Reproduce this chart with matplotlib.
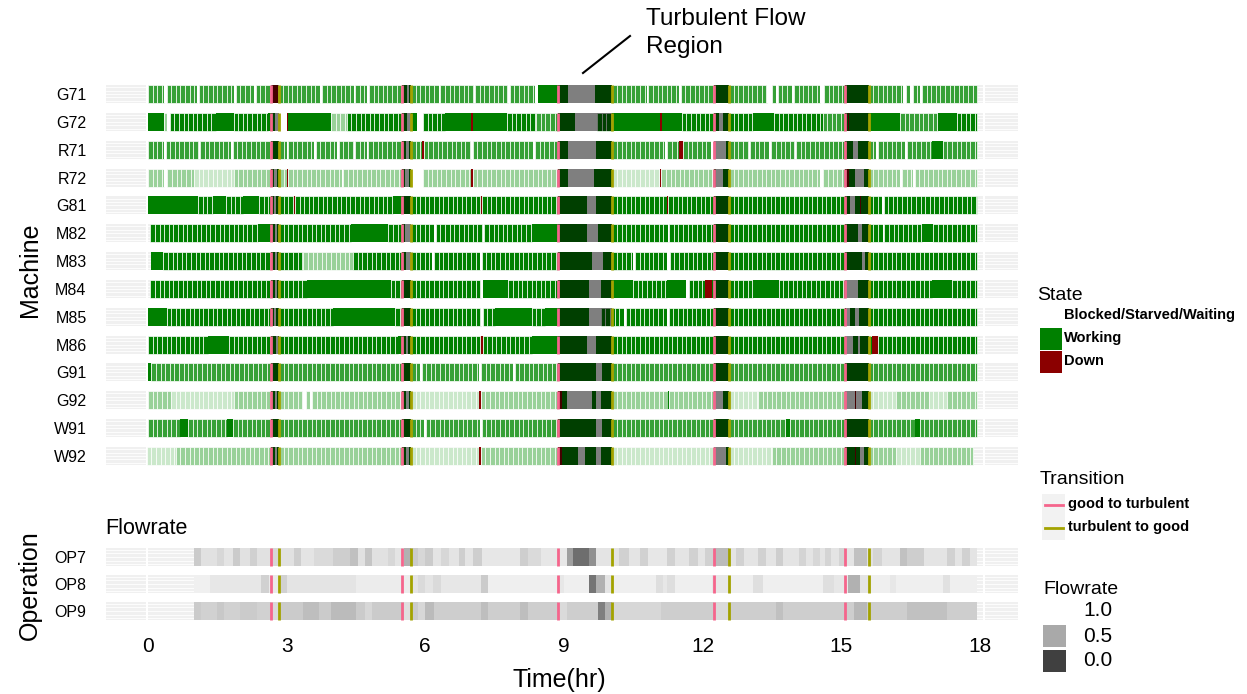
import numpy as np
import matplotlib.pyplot as plt
from matplotlib.colors import LinearSegmentedColormap
from matplotlib.patches import Rectangle
from matplotlib.lines import Line2D

plt.rcParams['font.family'] = ['Liberation Sans', 'DejaVu Sans']

# machine rows, top to bottom
machines = ['G71', 'G72', 'R71', 'R72', 'G81', 'M82', 'M83', 'M84', 'M85', 'M86',
            'G91', 'G92', 'W91', 'W92']

# state runs: code + start hour, '|' closes the last run
# g/m/l/p = working (dark/mid/light/pale shade), lower case = striped, upper = solid
# w = blocked/starved/waiting, d = down
machine_states = [
    "m0 w.34 m.4 w1.05 m1.1 w1.85 m1.9 w2.3 m2.33 d2.68 m2.82 w3.73 m3.77 w4.45 m4.48 w4.75 m4.78 "
    "G5.5 w5.6 G5.64 m5.69 w6.3 m6.33 w7.05 m7.08 w7.8 m7.83 w8.38 G8.43 w9.1 G9.68 m10.05 w10.8 m10.83 "
    "w11.5 m11.53 G12.24 m12.58 w13.4 m13.5 w13.6 m13.63 w13.93 m13.98 w14.55 m14.63 G15.09 m15.6 "
    "w16.35 m16.4 w16.5 m16.55 w16.7 m16.75 |17.94",
    "G0 l.34 w.4 g.47 G1.48 g1.85 G2.6 w2.75 G3.0 d3.0 G3.03 l3.96 g4.3 G5.5 w5.6 G5.69 w5.83 g5.95 "
    "G6.42 d7.0 G7.03 g7.77 m8.4 G8.88 w9.25 g9.72 G10.05 d11.08 G11.12 g11.55 G12.24 w12.35 G12.45 "
    "g12.58 G13.1 g13.55 m14.6 G15.09 d15.14 G15.18 G15.6 m16.28 G17.1 g17.5 |17.94",
    "m0 w.35 m.38 w1.1 m1.13 w1.8 m1.83 G2.66 m2.84 w3.0 m3.03 w3.6 m3.63 w4.1 m4.13 w4.45 m4.48 "
    "w4.74 m4.77 G5.5 w5.58 G5.64 m5.69 d5.93 m5.97 w7.0 m7.03 w8.34 m8.38 G8.88 w9.1 G9.7 m10.05 "
    "w11.2 m11.24 d11.5 m11.58 w12.18 w12.24 G12.5 m12.58 w13.0 m13.03 w13.45 m13.49 w14.0 m14.03 "
    "G15.09 w15.26 G15.36 m15.6 w15.76 m15.8 w16.38 m16.43 G16.97 m17.2 |17.94",
    "l0 w.35 l.42 p1.0 l1.85 G2.66 w2.72 G2.8 l2.84 d3.0 l3.03 w4.2 l4.23 G5.5 w5.56 G5.64 l5.69 "
    "w5.72 l5.95 d7.0 l7.03 G8.88 w9.1 G9.65 p10.05 d11.08 l11.11 G12.24 w12.3 G12.45 l12.58 "
    "w14.55 l14.62 G15.09 d15.12 G15.18 w15.3 G15.5 l15.6 w16.28 l16.32 w16.55 l16.59 |17.94",
    "G0 g1.08 G1.4 g1.69 G2.05 g2.4 G2.66 w2.72 G2.78 g2.84 d3.15 g3.18 G5.3 G5.5 g5.69 d7.2 g7.23 "
    "G8.88 w9.5 G9.7 g10.05 d11.23 g11.26 G12.24 g12.58 G15.09 w15.2 G15.3 d15.4 G15.43 g15.6 "
    "w15.88 g15.92 |17.94",
    "g.05 G2.38 w2.75 G2.8 g2.84 G4.4 g5.2 G5.5 w5.56 g5.69 w6.2 g6.23 w7.25 g7.28 G8.3 G8.88 w9.5 "
    "G9.75 g10.05 w11.25 g11.28 G12.24 g12.58 G15.09 w15.36 G15.45 g15.6 w15.9 g15.94 G16.75 g17.0 |17.94",
    "G.07 g.33 G2.66 w2.74 G2.8 g2.84 l3.36 g4.44 G5.5 w5.58 g5.69 w6.15 g6.19 w7.18 g7.22 G8.88 "
    "w9.6 G9.85 g10.05 w10.5 g10.54 w11.24 g11.29 G12.24 g12.58 G15.09 w15.45 G15.52 g15.6 |17.94",
    "g.05 G2.66 w2.75 G2.8 g2.84 G3.45 g5.25 G5.5 g5.69 w7.2 G7.25 g7.8 G8.88 w9.55 G9.8 G10.05 "
    "g10.5 G11.23 w11.65 g11.7 d12.05 G12.2 g12.58 G13.1 g13.65 w15.09 G15.37 g15.6 G16.97 g17.4 |17.94",
    "G0 g.4 G2.66 w2.72 G2.78 g2.84 G4.0 g5.35 G5.5 g5.69 w7.2 g7.24 G7.5 g8.3 G8.6 w9.55 g9.8 "
    "w10.3 g10.34 w11.23 g11.27 G12.24 g12.58 G15.09 w15.1 G15.2 w15.3 G15.38 g15.6 |17.94",
    "g0 G1.3 g1.75 G2.66 w2.76 G2.82 g2.84 G5.4 w5.58 G5.62 g5.69 d7.2 g7.24 G8.3 w9.5 G9.7 g10.05 "
    "G12.24 g12.58 w15.09 G15.26 w15.36 G15.42 g15.6 d15.68 g15.8 |17.94",
    "G0 m.07 G2.66 m2.84 G5.5 m5.69 w5.88 m5.92 w7.17 m7.21 w7.9 m7.94 G8.88 w9.7 G9.82 m10.05 "
    "G12.24 m12.58 G15.09 m15.6 |17.94",
    "l0 p.5 l1.85 G2.66 w2.74 G2.8 l2.84 w3.35 l3.42 w3.5 l3.55 G5.5 w5.58 G5.64 p5.69 d7.17 l7.2 "
    "d8.88 G8.95 w9.06 G9.6 w9.7 G9.8 l10.05 G11.25 l11.28 w12.24 G12.45 p12.58 l13.2 w15.09 d15.3 "
    "w15.33 G15.45 p15.6 l16.2 p16.9 l17.3 |17.94",
    "m0 G.69 m.87 G1.7 m1.84 G2.66 m2.84 G5.5 m5.69 w5.97 m6.01 w7.18 m7.22 G8.88 w9.7 G9.82 "
    "m10.05 G12.24 m12.58 G13.8 m13.9 G15.09 m15.6 G16.6 m16.7 |17.94",
    "p-.03 l.6 G2.66 w2.74 G2.8 l2.84 G5.5 w5.58 G5.64 p5.69 d7.17 l7.2 d8.88 G8.95 w9.3 G9.45 "
    "w9.7 G9.8 p10.05 w12.24 G12.5 p12.58 l13.5 G15.09 d15.3 G15.33 w15.4 G15.5 l15.6 p16.2 "
    "l16.7 |17.85",
]

operations = ['OP7', 'OP8', 'OP9']
# flowrate runs: start hour:value, '|' closes the last run
op_flow = [
    "1.0:.72 1.15:.86 1.5:.8 1.65:.88 1.84:.72 1.98:.86 2.2:.75 2.35:.86 2.66:.8 2.84:.86 3.15:.74 "
    "3.3:.88 3.6:.82 4.0:.74 4.37:.65 4.55:.86 4.7:.68 4.85:.86 5.2:.8 5.35:.88 5.53:.55 5.69:.72 "
    "5.85:.8 6.0:.72 6.17:.88 6.35:.8 6.52:.88 6.72:.74 6.86:.88 7.04:.74 7.22:.9 8.05:.74 8.22:.82 "
    "8.5:.9 9.06:.45 9.2:.22 9.55:.38 9.7:.88 10.2:.76 10.4:.88 10.65:.76 10.82:.9 11.23:.76 "
    "11.4:.88 11.7:.76 11.9:.88 12.05:.76 12.24:.62 12.58:.88 12.72:.76 12.9:.88 13.2:.76 13.38:.88 "
    "13.6:.74 13.75:.88 14.1:.78 14.25:.88 14.4:.8 14.55:.88 14.65:.78 14.78:.88 14.95:.78 15.09:.88 "
    "15.27:.66 15.56:.86 15.7:.78 15.88:.88 16.28:.66 16.43:.74 16.8:.88 17.3:.76 17.47:.88 "
    "17.62:.76 17.8:.88 |17.94",
    "1.0:.96 1.35:.9 2.45:.76 2.62:.92 2.87:.76 3.0:.88 4.5:.93 5.55:.93 5.7:.88 5.85:.82 6.0:.88 "
    "6.17:.82 6.35:.9 7.2:.72 7.36:.95 8.88:.9 9.0:.95 9.55:.25 9.7:.55 9.88:.88 10.05:.95 11.0:.84 "
    "11.15:.9 11.23:.84 11.4:.95 12.2:.9 12.58:.95 13.1:.85 13.3:.95 14.6:.85 14.85:.9 15.09:.92 "
    "15.14:.55 15.4:.88 15.6:.95 16.05:.9 16.2:.95 17.2:.86 17.35:.95 |17.94",
    "1.0:.72 1.15:.76 1.5:.7 1.65:.76 2.0:.72 2.35:.76 2.66:.82 2.84:.72 3.36:.64 3.7:.72 3.96:.62 "
    "4.5:.72 4.7:.8 4.85:.72 5.53:.85 5.69:.72 5.85:.8 6.0:.62 6.2:.74 7.2:.64 7.36:.74 8.05:.64 "
    "8.22:.74 8.88:.82 9.06:.74 9.75:.3 9.9:.55 10.05:.8 11.1:.74 12.24:.82 12.58:.74 13.6:.65 "
    "13.75:.74 15.27:.6 15.56:.74 16.43:.66 17.3:.74 |17.94",
]

good_to_turb = [2.67, 5.5, 8.88, 12.24, 15.09]
turb_to_good = [2.84, 5.69, 10.05, 12.58, 15.6]
xticks = [0, 3, 6, 9, 12, 15, 18]

state_col = {'g': '#008000', 'm': '#36a036', 'l': '#99d199', 'p': '#cbe8cb',
             'w': '#ffffff', 'd': '#8b0000'}
pink = '#f5658c'
olive = '#a3a300'
flow_cmap = LinearSegmentedColormap.from_list('flow', ['#404040', '#a9a9a9', '#f6f6f6'])


def runs(s):
    toks = s.split()
    return [(a[0], float(a[1:]), float(b[1:])) for a, b in zip(toks[:-1], toks[1:])]


def flow_runs(s):
    toks = s.split()
    out = []
    for a, b in zip(toks[:-1], toks[1:]):
        t0, v = a.split(':')
        t1 = b.split(':')[0].lstrip('|')
        out.append((float(t0), float(t1), float(v)))
    return out


def band(ax, i, h):
    # light grey row background with faint lines
    ax.add_patch(Rectangle((-0.91, i - h / 2), 19.74, h, facecolor='#f0f0f0',
                           edgecolor='none', zorder=0))
    for off in np.linspace(-h / 2 + 0.08, h / 2 - 0.08, 5):
        ax.plot([-0.91, 18.83], [i + off, i + off], color='white', lw=0.6, zorder=0.5)
    ax.vlines([-0.03, 18.1], i - h / 2, i + h / 2, color='white', lw=1.5, zorder=0.6)


fig = plt.figure(figsize=(12.47, 6.94), dpi=100)
W, H = 1247, 694
ax = fig.add_axes([106 / W, 1 - 469.9 / H, 912 / W, 389.8 / H])
axb = fig.add_axes([106 / W, 1 - 624.5 / H, 912 / W, 81 / H])

h = 0.65
for i, s in enumerate(machine_states):
    band(ax, i, h)
    for code, a, b in runs(s):
        c = state_col[code.lower()]
        if code in 'gmlp':
            pieces = [(e, min(0.1, b - e)) for e in np.arange(a, b, 0.1)]
            ax.broken_barh(pieces, (i - h / 2, h), facecolor=c, edgecolor='white',
                           linewidth=0.5, zorder=1)
        else:
            ax.broken_barh([(a, b - a)], (i - h / 2, h), facecolor=c, edgecolor='none', zorder=1)
    for a, b in zip(good_to_turb, turb_to_good):
        ax.broken_barh([(a, b - a)], (i - h / 2, h), facecolor='black', alpha=0.5,
                       edgecolor='none', zorder=2)
    ax.vlines(good_to_turb, i - h / 2, i + h / 2, color=pink, lw=2, zorder=3)
    ax.vlines(turb_to_good, i - h / 2, i + h / 2, color=olive, lw=2, zorder=3)

hb = 0.7
for i, s in enumerate(op_flow):
    band(axb, i, hb)
    for a, b, v in flow_runs(s):
        axb.broken_barh([(a, b - a)], (i - hb / 2, hb), facecolor=flow_cmap(v),
                        edgecolor='none', zorder=1)
    axb.vlines(good_to_turb, i - hb / 2, i + hb / 2, color=pink, lw=2, zorder=3)
    axb.vlines(turb_to_good, i - hb / 2, i + hb / 2, color=olive, lw=2, zorder=3)

for a, labels, n in [(ax, machines, len(machines)), (axb, operations, len(operations))]:
    a.set_xlim(-0.91, 18.83)
    a.set_ylim(n - 0.5, -0.5)
    a.set_yticks(range(n))
    a.set_yticklabels(labels, fontsize=11.5)
    a.tick_params(axis='y', length=0, pad=14)
    for sp in a.spines.values():
        sp.set_visible(False)

ax.set_xticks([])
axb.set_xticks(xticks)
axb.set_xticklabels([str(t) for t in xticks], fontsize=15)
axb.tick_params(axis='x', length=0, pad=9)

fig.text(30 / W, 1 - 270 / H, 'Machine', rotation=90, fontsize=18, ha='center', va='center')
fig.text(30 / W, 1 - 585 / H, 'Operation', rotation=90, fontsize=18, ha='center', va='center')
fig.text(559 / W, 1 - 680 / H, 'Time(hr)', fontsize=18, ha='center', va='center')
fig.text(105 / W, 1 - 528 / H, 'Flowrate', fontsize=15.5, ha='left', va='center')

fig.text(646 / W, 1 - 33 / H, 'Turbulent Flow\nRegion', fontsize=17.5, ha='left', va='center',
         linespacing=1.4)
fig.add_artist(Line2D([583 / W, 630 / W], [1 - 73 / H, 1 - 36 / H], color='black', lw=1.5))

# State legend
fig.text(1037 / W, 1 - 295 / H, 'State', fontsize=14, va='center')
for y0, col, lab in [(305, '#ffffff', 'Blocked/Starved/Waiting'), (328, '#008000', 'Working'),
                     (351, '#8b0000', 'Down')]:
    fig.add_artist(Rectangle((1040 / W, 1 - (y0 + 22) / H), 22 / W, 22 / H, facecolor=col,
                             edgecolor='none', transform=fig.transFigure))
    fig.text(1064 / W, 1 - (y0 + 10) / H, lab, fontsize=10.5, fontweight='bold', va='center')

# Transition legend
fig.text(1040 / W, 1 - 480 / H, 'Transition', fontsize=14, va='center')
for y0, col, lab in [(494, pink, 'good to turbulent'), (517, olive, 'turbulent to good')]:
    fig.add_artist(Rectangle((1042 / W, 1 - (y0 + 23) / H), 23 / W, 23 / H, facecolor='#f2f2f2',
                             edgecolor='none', transform=fig.transFigure))
    fig.add_artist(Line2D([1045 / W, 1063 / W], [1 - (y0 + 11) / H] * 2, color=col, lw=2))
    fig.text(1068 / W, 1 - (y0 + 10) / H, lab, fontsize=10.5, fontweight='bold', va='center')

# Flowrate legend
fig.text(1043 / W, 1 - 590 / H, 'Flowrate', fontsize=14, va='center')
for y0, v, lab in [(600, 1.0, '1.0'), (625, 0.5, '0.5'), (650, 0.0, '0.0')]:
    fig.add_artist(Rectangle((1043 / W, 1 - (y0 + 22) / H), 23 / W, 22 / H,
                             facecolor='#ffffff' if v == 1.0 else flow_cmap(v),
                             edgecolor='none', transform=fig.transFigure))
    fig.text(1083 / W, 1 - (y0 + 11) / H, lab, fontsize=15, va='center')

fig.savefig('out.png', dpi=100)
